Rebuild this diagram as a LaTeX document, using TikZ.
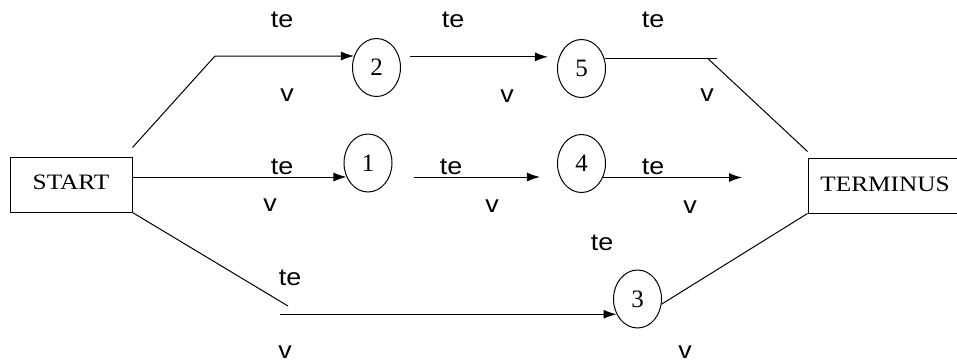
\documentclass[tikz,border=0pt]{standalone}
\usepackage{fontspec}
\setmainfont{Liberation Serif}
\newfontfamily\labfont{Liberation Sans}
\usetikzlibrary{arrows.meta,calc,shapes.geometric}
\newcommand\labtxt[1]{\scalebox{1.12}[1]{#1}}
\newcommand\boxtxt[1]{\scalebox{1.15}[1]{#1}}
\begin{document}
\begin{tikzpicture}[x=1pt,y=-1pt,
  line width=1pt,
  box/.style={draw,rectangle,minimum width=#1,minimum height=55pt,inner sep=0pt,
    font=\fontsize{22}{26}\selectfont},
  evt/.style={draw,ellipse,minimum width=48pt,minimum height=58pt,inner sep=0pt,
    font=\fontsize{25}{29}\selectfont},
  lab/.style={inner sep=0pt,font=\labfont\fontsize{24}{28}\selectfont},
  arr/.style={-{Latex[length=13pt,width=9pt]}},
]
\useasboundingbox (0,0) rectangle (957,362);

% boxes
\node[box=122pt] (start) at (71,184.5) {\raisebox{4pt}{\boxtxt{START}}\hspace{14pt}};
\node[box=154pt] (terminus) at (885,185.5) {\raisebox{3pt}{\boxtxt{TERMINUS}}};

% events
\node[evt] (n2) at (376.5,67.5) {2};
\node[evt] (n5) at (581.5,68.5) {5};
\node[evt] (n1) at (368,163) {1};
\node[evt] (n4) at (581.5,163.5) {4};
\node[evt] (n3) at (637.5,299) {3};

% free points
\coordinate (a1) at (215,56);
\coordinate (e1) at (717,58);
\coordinate (e2) at (708,58);
\coordinate (f4) at (742,177);
\coordinate (b1) at (288,306);
\coordinate (b2) at (280,313);

% top path
\draw[arr] ($(start.north east)+(0,-9)$) -- (a1 |- n2.153) -- (n2.153);
\draw[arr] ([xshift=11pt]n2.25) -- ([xshift=-11pt]n5.153 |- n2.25);
\draw (n5.23) -- (n5.23 -| e1);
\draw (e2 |- n5.23) -- ($(terminus.north west)+(0,-6)$);

% middle path
\draw[arr] (start.east |- n1.213) -- (n1.213);
\draw[arr] ([xshift=24pt]n1.-33) -- ([xshift=-20pt]n1.-33 -| n4.213);
\draw[arr] (n4.-33) -- (n4.-33 -| f4);

% bottom path
\draw (start.south east) -- (b1);
\draw[arr] (b2 |- n3.216) -- (n3.216);
\draw (n3.-12) -- (terminus.south west);

% labels
\node[lab] (l1) at (282,20) {\labtxt{te}};
\node[lab] (l2) at (453,20) {\labtxt{te}};
\node[lab] (l3) at (653,20) {\labtxt{te}};
\node[lab] (l4) at (287,95) {\labtxt{v}};
\node[lab] (l5) at (507,96) {\labtxt{v}};
\node[lab] (l6) at (707,95) {\labtxt{v}};
\node[lab] (l7) at (282,167) {\labtxt{te}};
\node[lab] (l8) at (451,167) {\labtxt{te}};
\node[lab] (l9) at (653,167) {\labtxt{te}};
\node[lab] (l10) at (270,205) {\labtxt{v}};
\node[lab] (l11) at (492,206) {\labtxt{v}};
\node[lab] (l12) at (690,207) {\labtxt{v}};
\node[lab] (l13) at (602,243) {\labtxt{te}};
\node[lab] (l14) at (290,278) {\labtxt{te}};
\node[lab] (l15) at (285,352) {\labtxt{v}};
\node[lab] (l16) at (685,352) {\labtxt{v}};
\end{tikzpicture}
\end{document}
